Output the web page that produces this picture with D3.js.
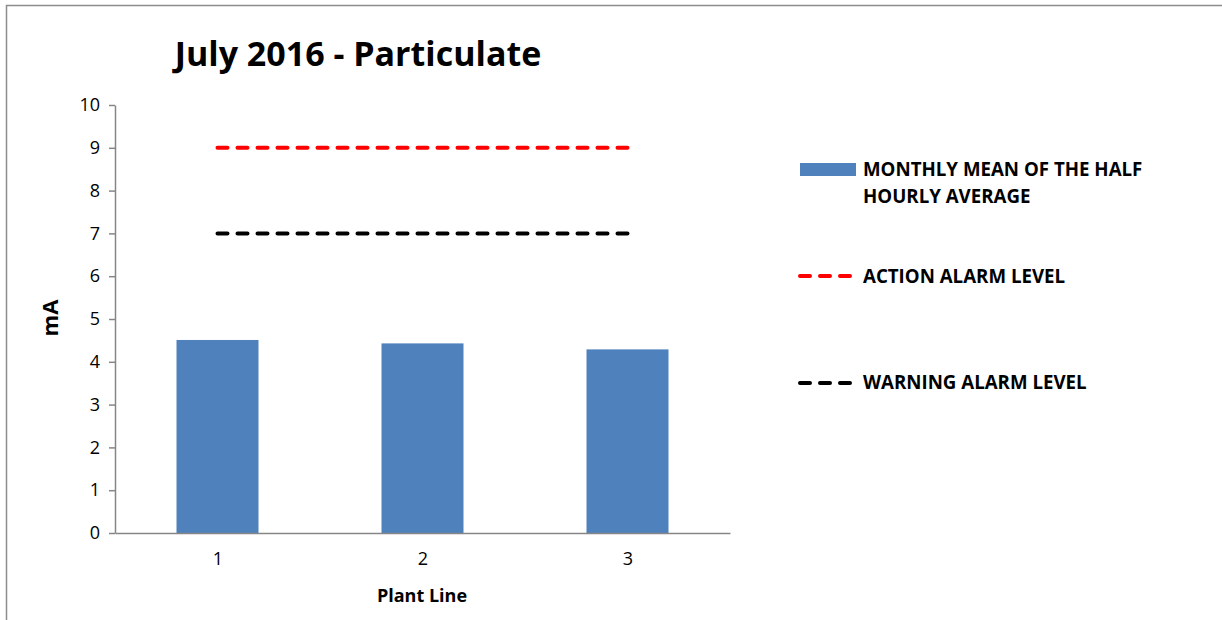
<html>
    <head>
        <meta charset="utf-8">
        <title>July 2016 - Particulate</title>
        <style type="text/css">
            body { margin: 0; background: #fff; }
            text { font-family: "Open Sans", sans-serif; fill: #000; }
        </style>
        <script src="https://d3js.org/d3.v7.min.js"></script>
    </head>
    <body>
    	<svg width="1222" height="620"></svg>
    	<script>
		// data
		var plantLines = ["1", "2", "3"];
		var monthlyMean = [4.51, 4.43, 4.29];
		var actionLevel = [9, 9, 9];
		var warningLevel = [7, 7, 7];
		var yTicks = [0, 1, 2, 3, 4, 5, 6, 7, 8, 9, 10];
		var legendLabels = [["MONTHLY MEAN OF THE HALF", "HOURLY AVERAGE"], ["ACTION ALARM LEVEL"], ["WARNING ALARM LEVEL"]];

		var svg = d3.select("svg"),
		    margin = {top: 105, left: 115},
		    width = 615,
		    height = 428,
		    g = svg.append("g").attr("transform", `translate(${margin.left},${margin.top})`);

		// chart area border (cropped in the original)
		svg.append("rect")
			.attr("x", 6.5).attr("y", 5.5)
			.attr("width", 1240).attr("height", 640)
			.attr("fill", "none")
			.attr("stroke", "#8c8c8c")
			.attr("stroke-width", 1.5);

		var xScale = d3.scaleBand().domain(plantLines).range([0, width]).paddingInner(0.6).paddingOuter(0.3),
		    xPoint = d3.scalePoint().domain(plantLines).range([0, width]).padding(0.5),
		    yScale = d3.scaleLinear().domain([0, 10]).range([height, 0]);

		// bars
		g.selectAll(".bar")
			.data(monthlyMean)
			.enter()
			.append("rect")
				.attr("class", "bar")
				.attr("x", (d, i) => xScale(plantLines[i]))
				.attr("y", d => yScale(d))
				.attr("width", xScale.bandwidth())
				.attr("height", d => height - yScale(d))
				.attr("fill", "#4f81bd");

		// alarm lines
		var line = d3.line()
			.x((d, i) => xPoint(plantLines[i]))
			.y(d => yScale(d));
		[[actionLevel, "#ff0000"], [warningLevel, "#000000"]].forEach(function(s) {
			g.append("path")
				.datum(s[0])
				.attr("d", line)
				.attr("fill", "none")
				.attr("stroke", s[1])
				.attr("stroke-width", 4)
				.attr("stroke-linecap", "round")
				.attr("stroke-dasharray", "10,10");
		});

		// y axis
		var yAxis = g.append("g")
			.call(d3.axisLeft(yScale).tickValues(yTicks).tickSize(6).tickPadding(9).tickSizeOuter(0));
		yAxis.select(".domain").attr("stroke", "#868686").attr("stroke-width", 1.5);
		yAxis.selectAll(".tick line").attr("stroke", "#868686").attr("stroke-width", 1.5);
		yAxis.selectAll("text").style("font-family", "'Open Sans', sans-serif").style("font-size", "18px").attr("fill", "#000");

		// x axis
		var xAxis = g.append("g")
			.attr("transform", `translate(0,${height})`)
			.call(d3.axisBottom(xPoint).tickSize(0).tickPadding(19));
		xAxis.select(".domain").attr("stroke", "#868686").attr("stroke-width", 1.5);
		xAxis.selectAll("text").style("font-family", "'Open Sans', sans-serif").style("font-size", "18px").attr("fill", "#000");

		// titles
		svg.append("text")
			.text("July 2016 - Particulate")
			.attr("x", 358).attr("y", 66)
			.attr("text-anchor", "middle")
			.style("font-size", "34px")
			.style("font-weight", "bold");
		svg.append("text")
			.text("Plant Line")
			.attr("x", 422).attr("y", 602)
			.attr("text-anchor", "middle")
			.style("font-size", "18px")
			.style("font-weight", "bold");
		svg.append("text")
			.text("mA")
			.attr("transform", "translate(58,318) rotate(-90)")
			.attr("text-anchor", "middle")
			.style("font-size", "22px")
			.style("font-weight", "bold");

		// legend
		var legend = svg.append("g").attr("transform", "translate(800,0)");
		legend.append("rect")
			.attr("x", 0).attr("y", 163)
			.attr("width", 56).attr("height", 13)
			.attr("fill", "#4f81bd");
		[[actionLevel, "#ff0000", 276], [warningLevel, "#000000", 383]].forEach(function(s) {
			legend.append("line")
				.attr("x1", 0).attr("x2", 52)
				.attr("y1", s[2]).attr("y2", s[2])
				.attr("stroke", s[1])
				.attr("stroke-width", 4)
				.attr("stroke-linecap", "round")
				.attr("stroke-dasharray", "10,10");
		});
		var legendY = [176, 283, 389];
		legendLabels.forEach(function(lines, i) {
			lines.forEach(function(t, j) {
				legend.append("text")
					.text(t)
					.attr("x", 63)
					.attr("y", legendY[i] + j * 27)
					.style("font-size", "18.7px")
					.style("font-weight", "bold");
			});
		});
    	</script>
  </body>
</html>
